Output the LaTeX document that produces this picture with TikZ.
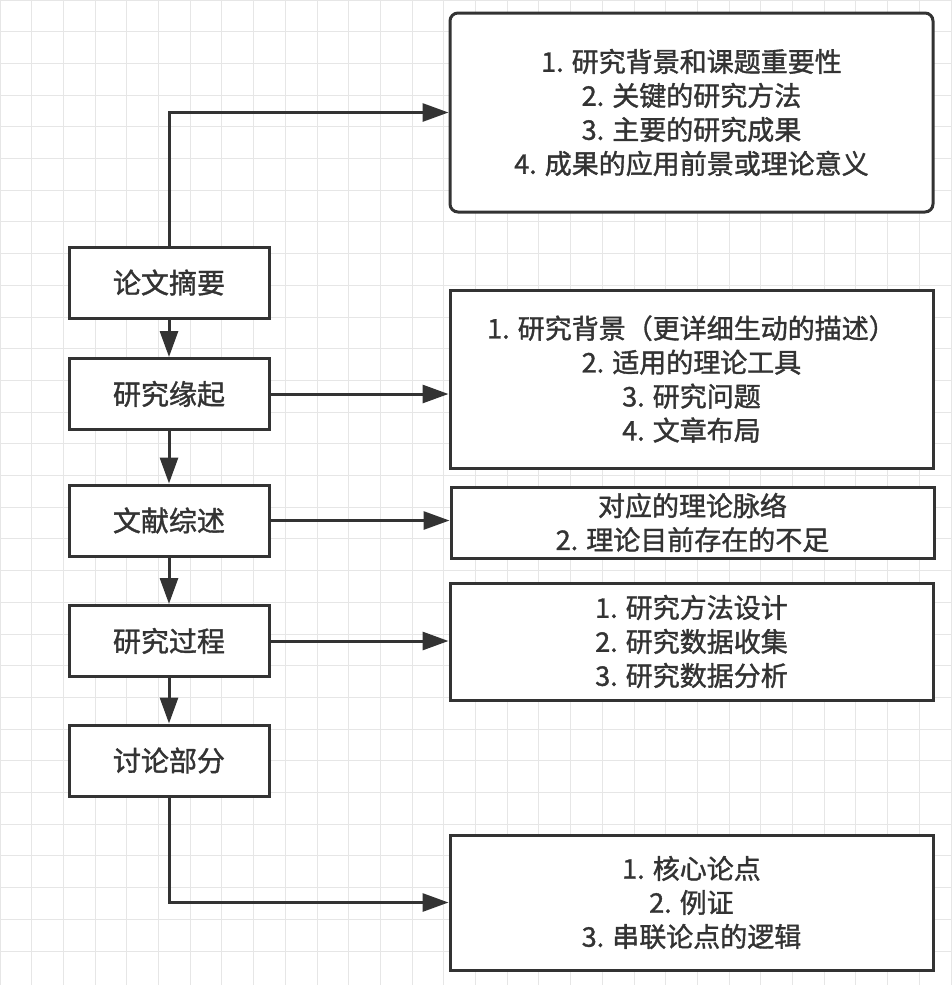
\documentclass[tikz,border=0pt]{standalone}
\usepackage{fontspec}
\setmainfont{Noto Sans CJK SC}[FakeBold=1.3]
\usetikzlibrary{arrows.meta}
\definecolor{ink}{HTML}{333333}
\definecolor{gridgray}{HTML}{E6E6E6}
\begin{document}
\begin{tikzpicture}[x=1pt,y=-1pt,
	flow/.style={draw=ink,line width=3pt,-{Triangle[length=26pt,width=18pt]}},
	gridline/.style={draw=gridgray,line width=1pt},
	topic/.style={rectangle,draw=ink,line width=3pt,fill=white,text=ink,
		minimum width=200pt,minimum height=71pt,inner sep=0pt,
		font=\fontsize{28}{34}\selectfont},
	detail/.style={rectangle,draw=ink,line width=3pt,fill=white,text=ink,
		minimum width=483pt,inner sep=0pt,align=center,
		font=\fontsize{27}{34}\selectfont}]
	\useasboundingbox[fill=white] (0,0) rectangle (951,985);
	% background grid
	\foreach \i in {0,...,30} {
		\draw[gridline] (\i*31.7,0) -- (\i*31.7,985);
		\draw[gridline] (0,\i*31.7) -- (951,\i*31.7);
	}
	
	\begin{scope}[every node/.style={topic}]
	\node (abs) at (169,282.5) {论文摘要};
	\node (ori) at (169,394) {研究缘起};
	\node (lit) at (169,520.5) {文献综述};
	\node (pro) at (169,641) {研究过程};
	\node (dis) at (169,760.5) {讨论部分};
	\end{scope}
	
	\node[detail,rounded corners=8pt,minimum height=199pt] (absD) at (691.5,112.5)
		{1. 研究背景和课题重要性\\2. 关键的研究方法\\3. 主要的研究成果\\4. 成果的应用前景或理论意义};
	\node[detail,minimum height=178pt] (oriD) at (691.5,379)
		{1. 研究背景（更详细生动的描述）\\2. 适用的理论工具\\3. 研究问题\\4. 文章布局};
	\node[detail,minimum height=71pt] (litD) at (692.5,522.5)
		{对应的理论脉络\\2. 理论目前存在的不足};
	\node[detail,minimum height=117pt] (proD) at (691.5,641.5)
		{1. 研究方法设计\\2. 研究数据收集\\3. 研究数据分析};
	\node[detail,minimum height=135pt] (disD) at (691.5,902.5)
		{1. 核心论点\\2. 例证\\3. 串联论点的逻辑};
	
	\path[flow] (abs.north) |- (absD.west);
	\path[flow] (abs) -- (ori);
	\path[flow] (ori) -- (lit);
	\path[flow] (lit) -- (pro);
	\path[flow] (pro) -- (dis);
	\path[flow] (ori.east) -- (ori.east -| oriD.west);
	\path[flow] (lit.east) -- (lit.east -| litD.west);
	\path[flow] (pro.east) -- (pro.east -| proD.west);
	\path[flow] (dis.south) |- (disD.west);
\end{tikzpicture}
\end{document}
